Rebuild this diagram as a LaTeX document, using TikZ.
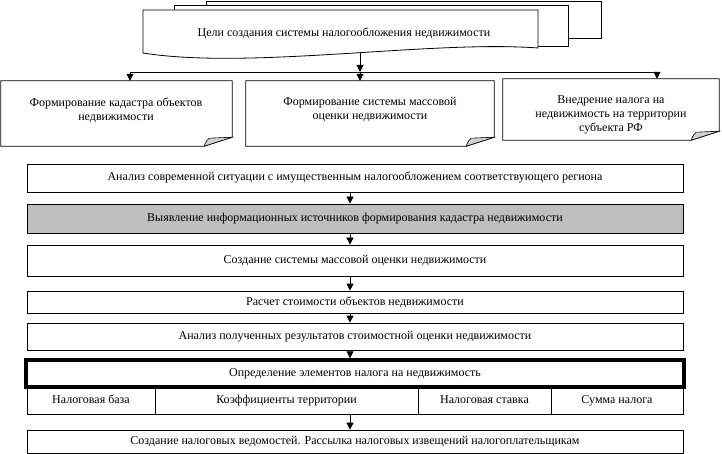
\documentclass[tikz,border=0pt]{standalone}
\usepackage{fontspec}
\setmainfont{Liberation Serif}
\usetikzlibrary{arrows.meta}

\begin{document}
\begin{tikzpicture}[x=1pt, y=-1pt,
    txt/.style={font=\fontsize{12}{14}\selectfont, inner sep=0pt, align=center},
    row/.style={txt, draw, line width=0.8pt, minimum width=656pt, minimum height=#1,
                text height=8.5pt, text depth=2.5pt},
    row/.default=27pt,
    cell/.style={txt, draw, line width=0.8pt, minimum height=27pt,
                 text height=8.5pt, text depth=2.5pt},
    notebox/.style={inner sep=0pt},
    sheet/.style={line width=0.8pt, fill=white},
    flap/.style={fill=gray!35, line width=0.6pt},
    arr/.style={-{Triangle[length=7pt,width=7pt]}, line width=0.8pt}
  ]
  \useasboundingbox (0,0) rectangle (722,454);

  % стопка листов
  \filldraw[sheet] (206,1) rectangle (601,38);
  \filldraw[sheet] (174,5) rectangle (568,46);
  \filldraw[sheet] (143,10) -- (538,10) -- (538,48)
     .. controls (430,40) and (250,70) .. (143,53) -- cycle;
  \node[txt] (goal) at (344,33) {Цели создания системы налогообложения недвижимости};
  \coordinate (goalfoot) at (360,53);

  % шина
  \coordinate (bus) at (360,72);
  \coordinate (busL) at (130,72);
  \coordinate (busR) at (657,72);
  \draw[line width=0.8pt] (busL) -- (busR);
  \draw[arr] (goalfoot) -- (bus);

  % три листа с загнутым углом
  \node[notebox, minimum width=231pt, minimum height=65pt] (box1) at (116.5,113.5) {};
  \node[notebox, minimum width=248pt, minimum height=65pt] (box2) at (370,113.5) {};
  \node[notebox, minimum width=216pt, minimum height=61pt] (box3) at (611,109.5) {};
  \foreach \b in {box1,box2,box3} {
    \draw[line width=0.8pt] (\b.north west) -- (\b.north east) -- ([yshift=9pt]\b.south east)
      -- ([xshift=-28pt]\b.south east) -- (\b.south west) -- cycle;
    \filldraw[flap] ([xshift=-28pt]\b.south east)
      .. controls ([xshift=-26pt,yshift=5pt]\b.south east) .. ([xshift=-23pt,yshift=8pt]\b.south east)
      -- ([yshift=9pt]\b.south east) -- cycle;
  }
  \node[txt] (box1txt) at (116,110) {Формирование кадастра объектов\\недвижимости};
  \node[txt] (box2txt) at (370,110) {Формирование системы массовой\\оценки недвижимости};
  \node[txt] (box3txt) at (611,115) {Внедрение налога на\\недвижимость на территории\\субъекта РФ};
  \draw[arr] (busL) -- (busL |- box1.north);
  \draw[arr] (bus) -- (bus |- box2.north);
  \draw[arr] (busR) -- (busR |- box3.north);

  % этапы
  \node[row=28pt] (ana) at (355,178) {Анализ современной ситуации с имущественным налогообложением соответствующего региона};
  \node[row=29pt, fill=black!25] (src) at (355,218.5) {Выявление информационных источников формирования кадастра недвижимости};
  \node[row=31pt] (mass) at (355,260.5) {Создание системы массовой оценки недвижимости};
  \node[row=22pt] (calc) at (355,302) {Расчет стоимости объектов недвижимости};
  \node[row=27pt] (res) at (355,336.5) {Анализ полученных результатов стоимостной оценки недвижимости};
  \node[row=27pt, minimum width=658pt, line width=3.5pt] (elem) at (355,373.5) {Определение элементов налога на недвижимость};
  \node[cell, minimum width=128pt] (base) at (91,400.5) {Налоговая база};
  \node[cell, minimum width=263pt] (coef) at (286.5,400.5) {Коэффициенты территории};
  \node[cell, minimum width=133pt] (rate) at (484.5,400.5) {Налоговая ставка};
  \node[cell, minimum width=132pt] (sum) at (617,400.5) {Сумма налога};
  \node[row=23pt] (lists) at (355,441.5) {Создание налоговых ведомостей. Рассылка налоговых извещений налогоплательщикам};

  % стрелки по оси
  \coordinate (axis) at (350,0);
  \foreach \a/\b in {ana/src, src/mass, mass/calc, calc/res, res/elem, coef/lists}
    \draw[arr] (\a.south -| axis) -- (\b.north -| axis);
\end{tikzpicture}
\end{document}
